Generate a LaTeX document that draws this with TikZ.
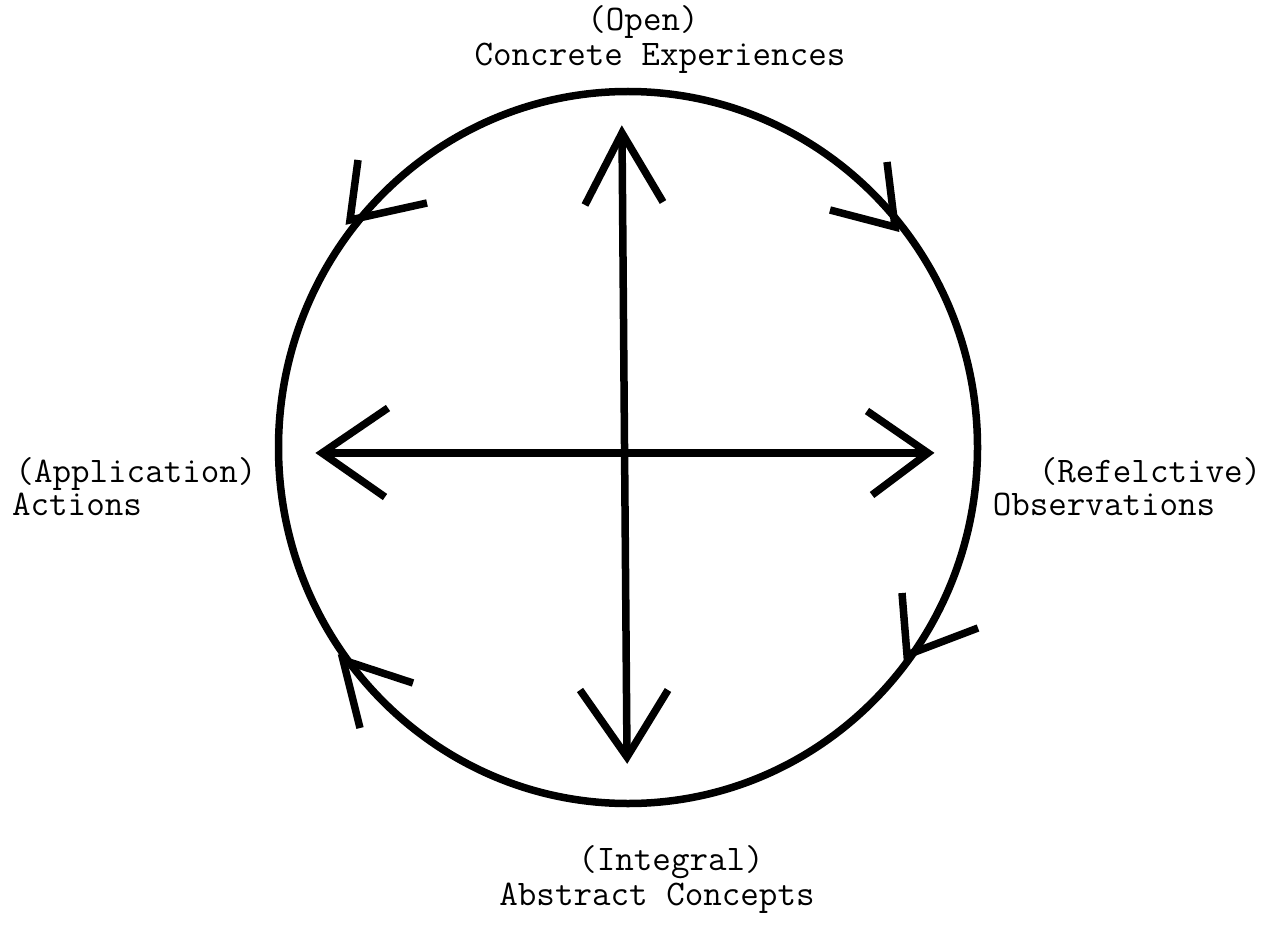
\documentclass[tikz,border=0pt]{standalone}
\usepackage{fontspec}
\begin{document}
\begin{tikzpicture}[x=1pt,y=-1pt,
  stroke/.style={line width=7.5pt, line cap=butt, line join=miter, miter limit=3},
  lbl/.style={font=\fontsize{36}{36}\selectfont\ttfamily, inner sep=0pt, anchor=base}]
\useasboundingbox (0,0) rectangle (1273,933);
% circle
\draw[stroke] (628,447.5) ellipse [x radius=349.5, y radius=356];
% cross arrow tips
\coordinate (T) at (622,133);
\coordinate (B) at (627,757);
\coordinate (L) at (322,453);
\coordinate (R) at (928,453);
\draw[stroke] (T) -- (B);
\draw[stroke] (L) -- (R);
\draw[stroke] (585,205) -- (T) -- (663,202);
\draw[stroke] (580,690) -- (B) -- (668,690);
\draw[stroke] (388,408) -- (L) -- (385,497);
\draw[stroke] (867,411) -- (R) -- (872,495);
% circle arrowheads
\coordinate (TL) at (350,220);
\coordinate (TR) at (895,227);
\coordinate (BR) at (907,655);
\coordinate (BL) at (343,660);
\draw[stroke] (358,160) -- (TL) -- (427,203);
\draw[stroke] (887,162) -- (TR) -- (830,210);
\draw[stroke] (902,593) -- (BR) -- (978,628);
\draw[stroke] (360,728) -- (BL) -- (413,683);
% labels
\node[lbl] (open) at (643,31) {(Open)};
\node[lbl] (ce) at (660,66) {Concrete Experiences};
\node[lbl] (app) at (136,482) {(Application)};
\node[lbl] (act) at (77,515) {Actions};
\node[lbl] (refl) at (1150,482) {(Refelctive)};
\node[lbl] (obs) at (1104,515) {Observations};
\node[lbl] (integ) at (671,870) {(Integral)};
\node[lbl] (ac) at (657,905) {Abstract Concepts};
\end{tikzpicture}
\end{document}
